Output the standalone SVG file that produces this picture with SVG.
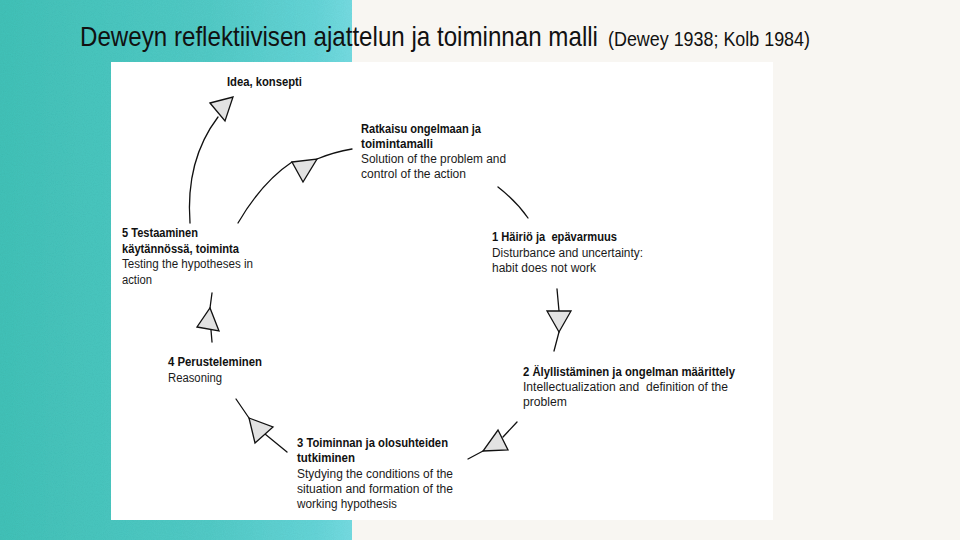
<svg xmlns="http://www.w3.org/2000/svg" width="960" height="540" viewBox="0 0 960 540">
  <defs>
    <linearGradient id="teal" x1="0" y1="0" x2="1" y2="0">
      <stop offset="0" stop-color="#42c3b9"/>
      <stop offset="0.6" stop-color="#53ccc8"/>
      <stop offset="0.9" stop-color="#66d6d9"/>
      <stop offset="1" stop-color="#76dde3"/>
    </linearGradient>
    <filter id="grain" x="0" y="0" width="1" height="1">
      <feTurbulence type="fractalNoise" baseFrequency="0.9" numOctaves="2" seed="3" result="n"/>
      <feColorMatrix in="n" type="matrix" values="0 0 0 0 0  0 0 0 0 0  0 0 0 0 0  0 0 0 0.10 0" result="g"/>
      <feComposite in="g" in2="SourceGraphic" operator="in" result="gi"/>
      <feMerge><feMergeNode in="SourceGraphic"/><feMergeNode in="gi"/></feMerge>
    </filter>
    <style>
      text { white-space: pre; }
      .t { font-family: "Liberation Sans", Arial, sans-serif; font-size: 12px; fill: #1a1a1a; }
      .b { font-weight: bold; fill: #111; }
      .title { font-family: "Liberation Sans", Arial, sans-serif; fill: #111; }
      .ln { fill: none; stroke: #111; stroke-width: 1.3; stroke-linecap: round; }
      .ah { fill: #e2e2e2; stroke: #111; stroke-width: 1.3; stroke-linejoin: miter; }
    </style>
  </defs>

  <!-- background -->
  <rect x="0" y="0" width="960" height="540" fill="#f8f6f2"/>
  <rect x="0" y="0" width="352" height="540" fill="url(#teal)" filter="url(#grain)"/>
  <rect x="111" y="62" width="662" height="458" fill="#ffffff"/>

  <!-- title -->
  <g transform="translate(0,46) scale(1,1.12)">
    <text class="title" x="80" y="0" font-size="24.5" textLength="518" lengthAdjust="spacingAndGlyphs">Deweyn reflektiivisen ajattelun ja toiminnan malli</text>
    <text class="title" x="608" y="0" font-size="17.5" textLength="202" lengthAdjust="spacingAndGlyphs">(Dewey 1938; Kolb 1984)</text>
  </g>

  <g id="connectors">
    <path class="ln" d="M190,223 C187,182 196,146 218,117"/>
    <polygon class="ah" points="210,103 233,97 225,121"/>
    <path class="ln" d="M238,223 Q262,182 292,162"/>
    <polygon class="ah" points="292,162 317,159 303,182"/>
    <path class="ln" d="M317,159 Q334,152 352,149"/>
    <path class="ln" d="M498,187 Q516,201 528,218"/>
    <path class="ln" d="M557,289 L559,311"/>
    <polygon class="ah" points="547,311 571,311 559,332"/>
    <path class="ln" d="M559,332 L554,351"/>
    <path class="ln" d="M517,422 L503,437"/>
    <polygon class="ah" points="483,451 508,450 498,430"/>
    <path class="ln" d="M483,451 L468,459"/>
    <path class="ln" d="M287,452 L265,434"/>
    <polygon class="ah" points="249,418 273,427 255,443"/>
    <path class="ln" d="M249,418 L236,399"/>
    <path class="ln" d="M212,342 L211,330"/>
    <polygon class="ah" points="197,327 219,331 210,308"/>
    <path class="ln" d="M210,308 L212,293"/>
  </g>

  <g id="node-idea">
    <text class="t b" x="227" y="86" textLength="75" lengthAdjust="spacingAndGlyphs">Idea, konsepti</text>
  </g>

  <g id="node-ratkaisu">
    <text class="t b" x="361" y="133" textLength="120" lengthAdjust="spacingAndGlyphs">Ratkaisu ongelmaan ja</text>
    <text class="t b" x="361" y="148" textLength="72" lengthAdjust="spacingAndGlyphs">toimintamalli</text>
    <text class="t" x="361" y="163" textLength="145" lengthAdjust="spacingAndGlyphs">Solution of the problem and</text>
    <text class="t" x="361" y="178" textLength="105" lengthAdjust="spacingAndGlyphs">control of the action</text>
  </g>

  <g id="node-1">
    <text class="t b" x="492" y="241" textLength="125" lengthAdjust="spacingAndGlyphs">1 Häiriö ja  epävarmuus</text>
    <text class="t" x="492" y="256.5" textLength="151" lengthAdjust="spacingAndGlyphs">Disturbance and uncertainty:</text>
    <text class="t" x="492" y="272" textLength="104" lengthAdjust="spacingAndGlyphs">habit does not work</text>
  </g>

  <g id="node-2">
    <text class="t b" x="523" y="376" textLength="212" lengthAdjust="spacingAndGlyphs">2 Älyllistäminen ja ongelman määrittely</text>
    <text class="t" x="523" y="391" textLength="205" lengthAdjust="spacingAndGlyphs">Intellectualization and  definition of the</text>
    <text class="t" x="523" y="406" textLength="44" lengthAdjust="spacingAndGlyphs">problem</text>
  </g>

  <g id="node-3">
    <text class="t b" x="297" y="447" textLength="151" lengthAdjust="spacingAndGlyphs">3 Toiminnan ja olosuhteiden</text>
    <text class="t b" x="297" y="462" textLength="58" lengthAdjust="spacingAndGlyphs">tutkiminen</text>
    <text class="t" x="297" y="477.5" textLength="156" lengthAdjust="spacingAndGlyphs">Stydying the conditions of the</text>
    <text class="t" x="297" y="493" textLength="156" lengthAdjust="spacingAndGlyphs">situation and formation of the</text>
    <text class="t" x="297" y="508" textLength="100" lengthAdjust="spacingAndGlyphs">working hypothesis</text>
  </g>

  <g id="node-4">
    <text class="t b" x="168" y="366" textLength="94" lengthAdjust="spacingAndGlyphs">4 Perusteleminen</text>
    <text class="t" x="168" y="381.5" textLength="54" lengthAdjust="spacingAndGlyphs">Reasoning</text>
  </g>

  <g id="node-5">
    <text class="t b" x="122" y="237" textLength="76" lengthAdjust="spacingAndGlyphs">5 Testaaminen</text>
    <text class="t b" x="122" y="252.5" textLength="117" lengthAdjust="spacingAndGlyphs">käytännössä, toiminta</text>
    <text class="t" x="122" y="268" textLength="131" lengthAdjust="spacingAndGlyphs">Testing the hypotheses in</text>
    <text class="t" x="122" y="283.5" textLength="30" lengthAdjust="spacingAndGlyphs">action</text>
  </g>
</svg>
